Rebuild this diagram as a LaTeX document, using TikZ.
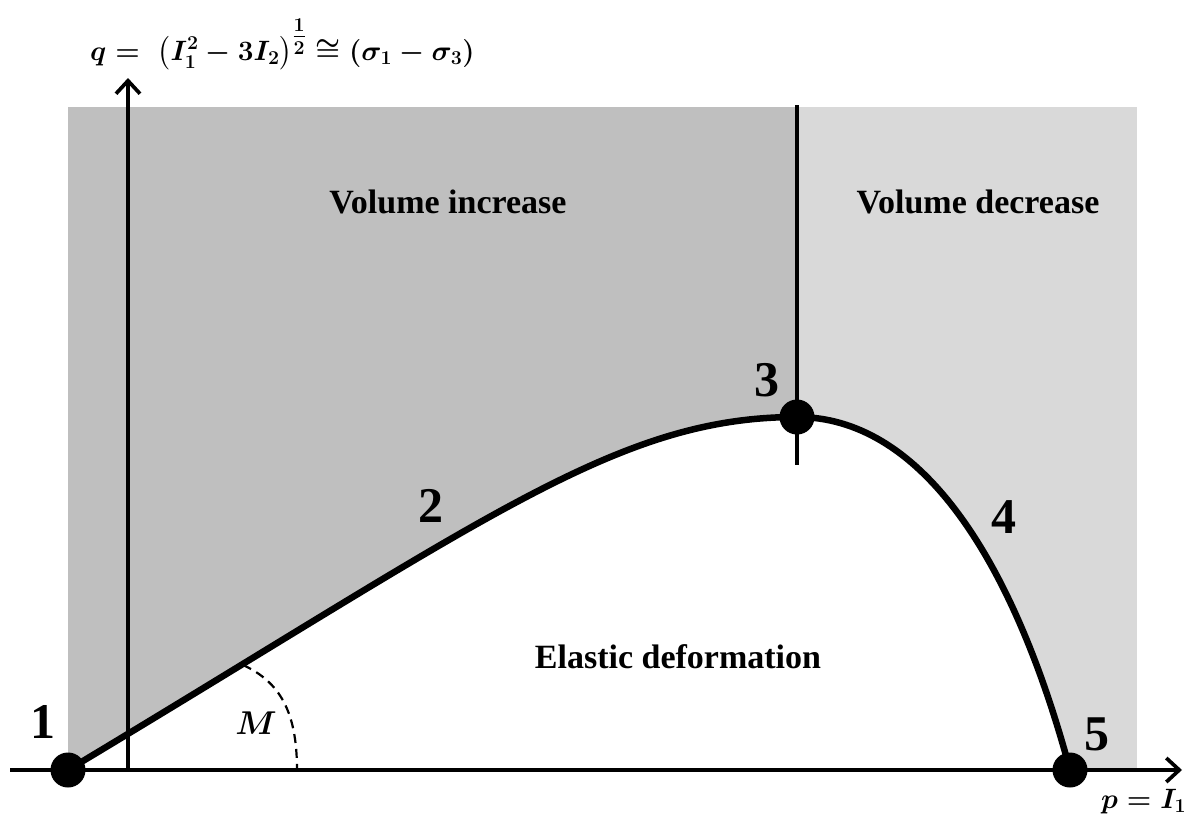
\documentclass[tikz,border=0pt]{standalone}
\usepackage{fix-cm}
\usepackage{amsmath,amssymb}
\usepackage{fontspec}
\setmainfont{Liberation Serif}
\usetikzlibrary{arrows.meta}
\definecolor{darkfill}{RGB}{191,191,191}
\definecolor{lightfill}{RGB}{217,217,217}
\tikzset{
  axisline/.style={line width=3.7pt,-{Straight Barb[length=13pt,width=24pt,line width=3.7pt]}},
  divider/.style={line width=3.7pt},
  yieldcurve/.style={line width=6.5pt},
  dotnode/.style={circle,fill=black,minimum size=35pt,inner sep=0pt},
  numlabel/.style={font=\fontsize{50}{50}\selectfont\bfseries,inner sep=0pt},
  regionlabel/.style={font=\fontsize{34}{34}\selectfont\bfseries,inner sep=0pt},
  mathlabel/.style={font=\fontsize{28}{32}\selectfont\boldmath,inner sep=0pt},
  anglelabel/.style={font=\fontsize{33}{36}\selectfont\boldmath,inner sep=0pt},
  anglearc/.style={line width=2.2pt,dash pattern=on 9pt off 6pt}
}
\begin{document}
\begin{tikzpicture}[x=1pt,y=-1pt]
\useasboundingbox (0,0) rectangle (1195,830);
% coordinates
\coordinate (P1) at (68,770);
\coordinate (P3) at (797,417);
\coordinate (P5) at (1070,770);
\coordinate (Mtop) at (243,665);
\coordinate (Mbot) at (297,770);
\coordinate (dtop) at (797,105);
\coordinate (dbot) at (797,465);
\coordinate (xs) at (10,770);
\coordinate (xe) at (1182,770);
\coordinate (ys) at (128,770);
\coordinate (ye) at (128,78);
% background regions
\fill[darkfill] (68,107) rectangle (797,770);
\fill[lightfill] (797,107) rectangle (1137,770);
\fill[white] (P1) .. controls (488,518) and (617,417) .. (P3)
  .. controls (917,417) and (1010.6,550) .. (P5) -- cycle;
% divider
\draw[divider] (dtop) -- (dbot);
% axes
\draw[axisline] (xs) -- (xe);
\draw[axisline] (ys) -- (ye);
% curve
\draw[yieldcurve] (P1) .. controls (488,518) and (617,417) .. (P3)
  .. controls (917,417) and (1010.6,550) .. (P5);
% angle arc
\draw[anglearc] (Mtop) .. controls (280,682) and (297,712) .. (Mbot);
% dots
\node[dotnode] (d1) at (P1) {};
\node[dotnode] (d3) at (P3) {};
\node[dotnode] (d5) at (P5) {};
% labels
\node[numlabel] (l1) at (43,722) {1};
\node[numlabel] (l2) at (431,506) {2};
\node[numlabel] (l3) at (767,380) {3};
\node[numlabel] (l4) at (1004,517) {4};
\node[numlabel] (l5) at (1097,734) {5};
\node[regionlabel] (vi) at (448,202) {Volume increase};
\node[regionlabel] (vd) at (978,202) {Volume decrease};
\node[regionlabel] (ed) at (678,657) {Elastic deformation};
\node[anglelabel] (lm) at (256,723) {$M$};
\node[mathlabel,anchor=base west] (qlab) at (90,60) {$q =\;\left(I_1^2 - 3I_2\right)^{\genfrac{}{}{}{1}{1}{2}} \cong (\sigma_1 - \sigma_3)$};
\node[mathlabel,anchor=base west] (plab) at (1101,808) {$p = I_1$};
\end{tikzpicture}
\end{document}
